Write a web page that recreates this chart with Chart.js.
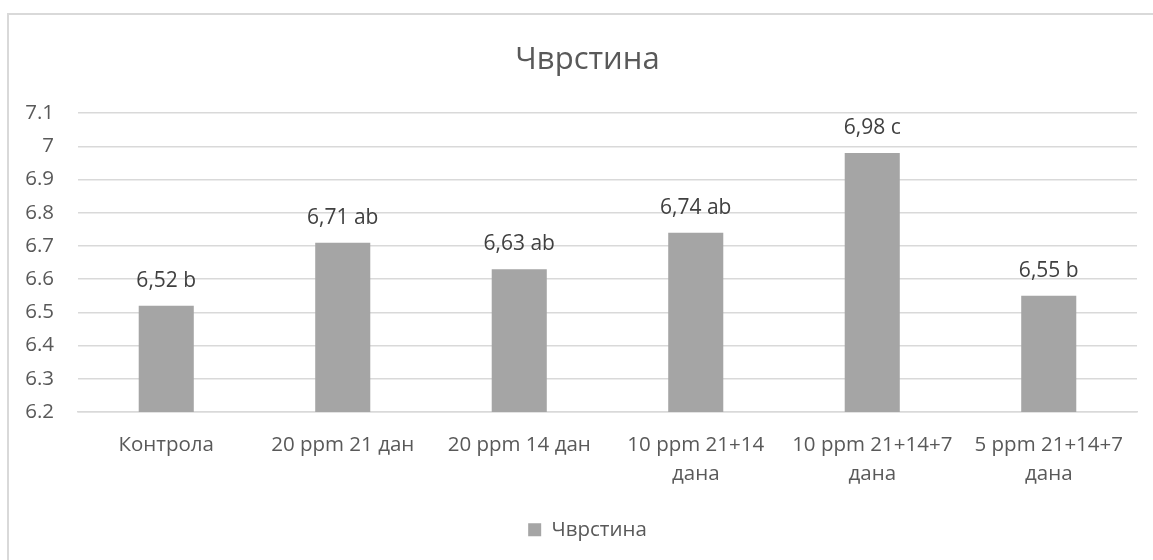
<!DOCTYPE html>
<html>
<head>
<meta charset="utf-8">
<script src="https://cdn.jsdelivr.net/npm/chart.js@4/dist/chart.umd.min.js"></script>
<style>
  html, body { margin: 0; padding: 0; background: #fff; }
  #wrap { position: relative; width: 1153px; height: 560px; }
</style>
</head>
<body>
<div id="wrap"><canvas id="c"></canvas></div>
<script>
// Treatments and measured firmness
const categories = [
  'Контрола',
  '20 ppm 21 дан',
  '20 ppm 14 дан',
  ['10 ppm 21+14', 'дана'],
  ['10 ppm 21+14+7', 'дана'],
  ['5 ppm 21+14+7', 'дана']
];
const firmness = [6.52, 6.71, 6.63, 6.74, 6.98, 6.55];
const groupLetters = ['b', 'ab', 'ab', 'ab', 'c', 'b'];
const seriesName = 'Чврстина';
const yMin = 6.2, yMax = 7.1, yStep = 0.1;

const FONT = "'Open Sans', 'Noto Sans', sans-serif";
const TEXT = '#595959';
const BAR = '#a5a5a5';
const GRID = '#d9d9d9';

// White background plus the chart frame
const framePlugin = {
  id: 'frame',
  beforeDraw(chart) {
    const ctx = chart.ctx;
    ctx.save();
    ctx.fillStyle = '#fff';
    ctx.fillRect(0, 0, chart.width, chart.height);
    ctx.strokeStyle = GRID;
    ctx.lineWidth = 2;
    ctx.beginPath();
    ctx.moveTo(8, chart.height);
    ctx.lineTo(8, 14);
    ctx.lineTo(chart.width, 14);
    ctx.stroke();
    ctx.restore();
  }
};

// Value + significance letter above each bar
const valueLabels = {
  id: 'valueLabels',
  afterDatasetsDraw(chart) {
    const ctx = chart.ctx;
    const meta = chart.getDatasetMeta(0);
    ctx.save();
    ctx.font = '21px ' + FONT;
    ctx.fillStyle = '#404040';
    ctx.textAlign = 'center';
    ctx.textBaseline = 'alphabetic';
    meta.data.forEach((bar, i) => {
      const v = chart.data.datasets[0].data[i];
      const txt = v.toFixed(2).replace('.', ',') + ' ' + groupLetters[i];
      ctx.fillText(txt, bar.x, bar.y - 19);
    });
    ctx.restore();
  }
};

new Chart(document.getElementById('c'), {
  type: 'bar',
  data: {
    labels: categories,
    datasets: [{
      label: seriesName,
      data: firmness,
      backgroundColor: BAR,
      borderWidth: 0,
      barPercentage: 0.312,
      categoryPercentage: 1
    }]
  },
  options: {
    responsive: true,
    maintainAspectRatio: false,
    animation: false,
    layout: { padding: { left: 22, right: 0, top: 0, bottom: 10 } },
    plugins: {
      title: {
        display: true,
        text: 'Чврстина',
        color: TEXT,
        font: { family: FONT, size: 31, weight: 'normal', lineHeight: 1.2 },
        padding: { top: 42, bottom: 34 }
      },
      legend: {
        position: 'bottom',
        labels: {
          color: TEXT,
          font: { family: FONT, size: 20.5 },
          boxWidth: 13,
          boxHeight: 13,
          padding: 12
        }
      },
      tooltip: { enabled: false }
    },
    scales: {
      x: {
        grid: { display: false, drawTicks: false },
        border: { display: true, color: GRID, width: 1.5 },
        ticks: {
          color: TEXT,
          font: { family: FONT, size: 20.5, lineHeight: 1.45 },
          padding: 18,
          maxRotation: 0,
          autoSkip: false
        }
      },
      y: {
        min: yMin,
        max: yMax,
        border: { display: false },
        grid: { color: GRID, lineWidth: 1.5, drawTicks: false },
        ticks: {
          stepSize: yStep,
          color: TEXT,
          font: { family: FONT, size: 20.5 },
          padding: 24,
          callback: v => String(Number(v.toFixed(1)))
        },
        afterFit(scale) { scale.width = 56; }
      },
      // empty right margin strip inside the frame
      yRight: {
        position: 'right',
        display: true,
        grid: { display: false, drawTicks: false },
        border: { display: false },
        ticks: { display: false },
        afterFit(scale) { scale.width = 16; }
      }
    }
  },
  plugins: [framePlugin, valueLabels]
});
</script>
</body>
</html>
